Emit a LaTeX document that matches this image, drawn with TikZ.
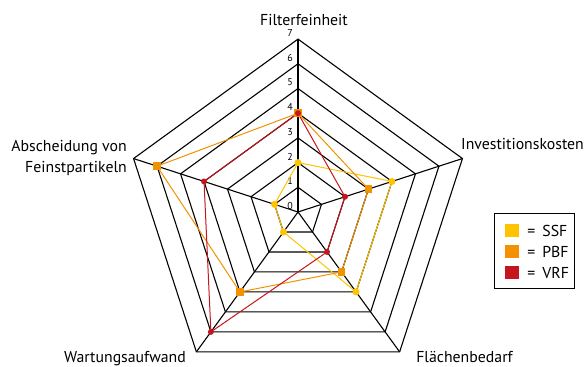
\documentclass[tikz,border=0pt]{standalone}
\usepackage{fontspec}
\setmainfont{PT Sans}
\usepackage{tikz}
\definecolor{ssf}{HTML}{FFC300}
\definecolor{pbf}{HTML}{F39200}
\definecolor{vrf}{HTML}{C4161C}
\def\u{24.7}

\begin{document}
\begin{tikzpicture}[x=1pt,y=1pt,%
% common options for the axis labels:
axis/.style = {font=\fontsize{15.8}{21}\selectfont, inner sep=0},
% common options for the scale numbers:
tick/.style = {font=\fontsize{10}{11}\selectfont, anchor=east, inner sep=0},
% common options for the markers:
dot/.style = {circle, inner sep=0, minimum size=7pt},
sq/.style = {rectangle, inner sep=0, minimum size=7.5pt},
swatch/.style = {rectangle, inner sep=0, minimum width=14pt, minimum height=13pt}]
\useasboundingbox (0,0) rectangle (585,366);
\begin{scope}[shift={(298,154)}]
% web
\foreach \k in {1,...,7}
  \draw[line width=1.1pt] (90:\k*\u) -- (18:\k*\u) -- (-54:\k*\u) -- (-126:\k*\u) -- (162:\k*\u) -- cycle;
\foreach \a in {90,18,-54,-126,162}
  \draw[line width=1.1pt] (0,0) -- (\a:7*\u);
\foreach \k in {0,...,7}
  \node[tick] (t\k) at (-5,\k*\u+6) {\k};
% SSF
\coordinate (S1) at (90:2*\u);
\coordinate (S2) at (18:4*\u);
\coordinate (S3) at (-54:4*\u);
\coordinate (S4) at (-126:1*\u);
\coordinate (S5) at (162:1*\u);
% PBF
\coordinate (P1) at (90:4*\u);
\coordinate (P2) at (18:3*\u);
\coordinate (P3) at (-54:3*\u);
\coordinate (P4) at (-126:4*\u);
\coordinate (P5) at (162:6*\u);
% VRF
\coordinate (V1) at (90:4*\u);
\coordinate (V2) at (18:2*\u);
\coordinate (V3) at (-54:2*\u);
\coordinate (V4) at (-126:6*\u);
\coordinate (V5) at (162:4*\u);
\end{scope}
\draw[ssf, line width=1pt] (S1) -- (S2) -- (S3) -- (S4) -- (S5) -- cycle;
\draw[pbf, line width=1pt] (P1) -- (P2) -- (P3) -- (P4) -- (P5) -- cycle;
\draw[vrf, line width=1pt] (V1) -- (V2) -- (V3) -- (V4) -- (V5) -- cycle;
\foreach \i in {1,...,5} {
  \node[dot, fill=ssf] (s\i) at (S\i) {};
  \node[sq, fill=pbf] (p\i) at (P\i) {};
  \node[dot, fill=vrf, minimum size=6pt] (v\i) at (V\i) {};
}
% axis labels
\node[axis, anchor=base] (fil) at (304,340) {Filterfeinheit};
\node[axis, anchor=base west] (inv) at (461,216) {Investitionskosten};
\node[axis, anchor=base] (fla) at (464.5,3) {Flächenbedarf};
\node[axis, anchor=base] (war) at (125,3) {Wartungsaufwand};
\node[axis, align=right, anchor=east] (abs) at (127,208) {Abscheidung von\\Feinstpartikeln};
% legend
\draw[line width=1pt] (494,77) rectangle (574,152);
\node[swatch, fill=ssf] (l1) at (512,135) {};
\node[swatch, fill=pbf] (l2) at (512,114) {};
\node[swatch, fill=vrf] (l3) at (512,93) {};
\node[axis, anchor=west] (e1) at (l1.east) {\hspace{8pt}=\hspace{7pt}SSF};
\node[axis, anchor=west] (e2) at (l2.east) {\hspace{8pt}=\hspace{7pt}PBF};
\node[axis, anchor=west] (e3) at (l3.east) {\hspace{8pt}=\hspace{7pt}VRF};
\end{tikzpicture}
\end{document}
